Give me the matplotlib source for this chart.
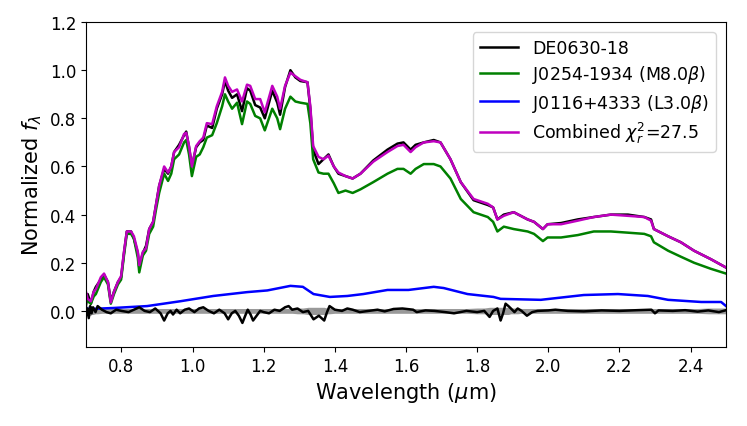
import numpy as np
import matplotlib
matplotlib.use("Agg")
import matplotlib.pyplot as plt

# wavelength grid (micron) shared by the observed spectrum, the M8 template and the combined fit
wave = [0.700, 0.705, 0.714, 0.722, 0.728, 0.742, 0.751, 0.762, 0.770, 0.779,
        0.790, 0.799, 0.807, 0.815, 0.827, 0.835, 0.846, 0.850, 0.860, 0.869,
        0.878, 0.889, 0.897, 0.906, 0.920, 0.931, 0.940, 0.948, 0.962, 0.976,
        0.982, 0.990, 0.998, 1.010, 1.020, 1.030, 1.040, 1.055, 1.068, 1.083,
        1.091, 1.100, 1.111, 1.125, 1.139, 1.153, 1.162, 1.176, 1.190, 1.203,
        1.224, 1.238, 1.246, 1.260, 1.275, 1.289, 1.303, 1.323, 1.331, 1.339,
        1.354, 1.368, 1.382, 1.397, 1.410, 1.430, 1.450, 1.472, 1.508, 1.548,
        1.576, 1.593, 1.613, 1.627, 1.650, 1.678, 1.697, 1.725, 1.754, 1.790,
        1.830, 1.845, 1.857, 1.875, 1.903, 1.942, 1.960, 1.985, 1.998, 2.036,
        2.083, 2.128, 2.176, 2.224, 2.270, 2.289, 2.297, 2.337, 2.373, 2.410,
        2.457, 2.500]

# DE0630-18 (observed)
flux_obs = [0.02, 0.07, 0.03, 0.08, 0.10, 0.13, 0.15, 0.12, 0.04, 0.08,
            0.12, 0.14, 0.24, 0.33, 0.33, 0.30, 0.24, 0.18, 0.24, 0.27,
            0.34, 0.37, 0.44, 0.52, 0.59, 0.57, 0.60, 0.66, 0.69, 0.73,
            0.745, 0.68, 0.60, 0.68, 0.70, 0.71, 0.77, 0.76, 0.84, 0.90,
            0.955, 0.915, 0.885, 0.90, 0.83, 0.925, 0.915, 0.855, 0.845, 0.80,
            0.915, 0.865, 0.815, 0.93, 1.00, 0.97, 0.955, 0.95, 0.84, 0.67,
            0.61, 0.63, 0.65, 0.60, 0.57, 0.56, 0.55, 0.57, 0.625, 0.67,
            0.695, 0.70, 0.67, 0.69, 0.70, 0.71, 0.70, 0.63, 0.535, 0.46,
            0.44, 0.43, 0.38, 0.40, 0.41, 0.38, 0.37, 0.34, 0.36, 0.365,
            0.38, 0.39, 0.40, 0.40, 0.39, 0.38, 0.34, 0.31, 0.285, 0.25,
            0.215, 0.18]

# J0254-1934 (M8.0 beta), scaled
flux_m8 = [0.06, 0.04, 0.03, 0.06, 0.07, 0.12, 0.14, 0.11, 0.03, 0.07,
           0.11, 0.13, 0.23, 0.32, 0.32, 0.30, 0.22, 0.16, 0.23, 0.25,
           0.32, 0.35, 0.42, 0.49, 0.57, 0.54, 0.57, 0.63, 0.65, 0.70,
           0.71, 0.65, 0.56, 0.64, 0.65, 0.68, 0.72, 0.73, 0.78, 0.85,
           0.90, 0.87, 0.84, 0.865, 0.776, 0.87, 0.86, 0.81, 0.80, 0.75,
           0.84, 0.80, 0.755, 0.84, 0.89, 0.87, 0.865, 0.86, 0.78, 0.63,
           0.575, 0.57, 0.57, 0.53, 0.49, 0.50, 0.49, 0.505, 0.535, 0.57,
           0.59, 0.59, 0.57, 0.59, 0.61, 0.61, 0.60, 0.55, 0.465, 0.41,
           0.39, 0.37, 0.33, 0.35, 0.34, 0.33, 0.32, 0.29, 0.305, 0.305,
           0.315, 0.33, 0.33, 0.325, 0.32, 0.31, 0.285, 0.25, 0.225, 0.20,
           0.175, 0.155]

# combined fit
flux_comb = [0.08, 0.05, 0.04, 0.08, 0.09, 0.14, 0.155, 0.12, 0.035, 0.08,
             0.12, 0.145, 0.245, 0.33, 0.33, 0.31, 0.245, 0.19, 0.245, 0.26,
             0.34, 0.37, 0.44, 0.52, 0.60, 0.575, 0.60, 0.66, 0.68, 0.735,
             0.74, 0.685, 0.60, 0.685, 0.705, 0.72, 0.78, 0.776, 0.85, 0.91,
             0.97, 0.935, 0.91, 0.92, 0.87, 0.94, 0.935, 0.88, 0.88, 0.825,
             0.935, 0.89, 0.84, 0.935, 0.99, 0.975, 0.96, 0.95, 0.85, 0.685,
             0.64, 0.63, 0.645, 0.60, 0.575, 0.56, 0.55, 0.57, 0.62, 0.66,
             0.685, 0.69, 0.66, 0.68, 0.70, 0.705, 0.70, 0.63, 0.535, 0.465,
             0.445, 0.43, 0.38, 0.395, 0.41, 0.38, 0.37, 0.34, 0.36, 0.36,
             0.375, 0.39, 0.40, 0.395, 0.39, 0.375, 0.34, 0.31, 0.285, 0.25,
             0.215, 0.18]

# J0116+4333 (L3.0 beta), scaled
wave_l3 = [0.700, 0.711, 0.776, 0.872, 0.965, 1.058, 1.153, 1.210, 1.275, 1.310,
           1.340, 1.386, 1.435, 1.480, 1.548, 1.607, 1.678, 1.706, 1.773, 1.846,
           1.866, 1.979, 2.100, 2.196, 2.280, 2.337, 2.430, 2.486, 2.500]
flux_l3 = [0.01, 0.008, 0.012, 0.020, 0.040, 0.062, 0.078, 0.085, 0.104, 0.100,
           0.070, 0.058, 0.062, 0.070, 0.087, 0.087, 0.100, 0.095, 0.070, 0.058,
           0.050, 0.046, 0.066, 0.070, 0.062, 0.046, 0.037, 0.037, 0.020]

# residual (observed - combined) and its uncertainty
wave_res = [0.700, 0.704, 0.708, 0.712, 0.716, 0.720, 0.727, 0.733, 0.745, 0.758,
            0.770, 0.785, 0.800, 0.820, 0.835, 0.850, 0.865, 0.880, 0.895, 0.910,
            0.920, 0.930, 0.938, 0.945, 0.955, 0.965, 0.978, 0.990, 1.005, 1.018,
            1.030, 1.045, 1.060, 1.075, 1.090, 1.100, 1.110, 1.120, 1.130, 1.140,
            1.148, 1.155, 1.163, 1.170, 1.180, 1.190, 1.200, 1.215, 1.230, 1.245,
            1.260, 1.270, 1.280, 1.295, 1.310, 1.325, 1.340, 1.355, 1.370, 1.378,
            1.385, 1.400, 1.420, 1.435, 1.450, 1.470, 1.495, 1.520, 1.540, 1.565,
            1.590, 1.620, 1.630, 1.655, 1.680, 1.710, 1.735, 1.770, 1.800, 1.820,
            1.835, 1.845, 1.857, 1.866, 1.873, 1.880, 1.888, 1.895, 1.905, 1.914,
            1.925, 1.940, 1.955, 1.970, 2.000, 2.020, 2.055, 2.100, 2.150, 2.200,
            2.250, 2.290, 2.300, 2.310, 2.350, 2.385, 2.420, 2.450, 2.480, 2.500]
flux_res = [-0.02, 0.01, -0.03, 0.02, -0.01, 0.015, -0.005, 0.02, 0.005, -0.005,
            -0.01, 0.005, 0.0, -0.005, 0.005, 0.015, 0.0, -0.005, 0.01, -0.01,
            -0.04, -0.01, 0.0, -0.015, 0.005, -0.01, 0.005, 0.01, -0.005, 0.01,
            0.015, 0.0, -0.01, 0.005, -0.01, -0.035, -0.01, 0.0, -0.02, -0.05,
            -0.02, 0.005, -0.015, -0.04, -0.02, 0.0, -0.005, -0.01, 0.005, 0.0,
            0.015, 0.02, 0.005, 0.01, -0.005, 0.0, -0.035, -0.02, -0.04, -0.005,
            0.02, 0.005, 0.0, 0.01, 0.005, -0.005, 0.0, 0.005, -0.002, 0.008,
            0.01, 0.005, -0.005, 0.002, 0.0, -0.005, -0.01, 0.0, -0.005, 0.0,
            -0.025, 0.0, 0.01, -0.04, -0.01, 0.03, 0.02, 0.01, -0.005, 0.01,
            0.0, -0.02, -0.005, 0.0, 0.002, 0.005, 0.0, -0.002, 0.002, 0.0,
            0.003, 0.005, -0.01, 0.002, 0.0, 0.003, -0.003, 0.002, -0.005, 0.003]
err_res = [0.02, 0.02, 0.02, 0.02, 0.015, 0.015, 0.012, 0.012, 0.01, 0.01,
           0.01, 0.01, 0.01, 0.01, 0.01, 0.01, 0.01, 0.01, 0.01, 0.01,
           0.01, 0.01, 0.01, 0.01, 0.01, 0.01, 0.01, 0.01, 0.01, 0.01,
           0.01, 0.01, 0.01, 0.01, 0.01, 0.01, 0.01, 0.01, 0.01, 0.01,
           0.01, 0.01, 0.01, 0.01, 0.01, 0.01, 0.01, 0.01, 0.01, 0.01,
           0.01, 0.01, 0.01, 0.012, 0.012, 0.015, 0.015, 0.015, 0.015, 0.012,
           0.012, 0.01, 0.01, 0.01, 0.01, 0.01, 0.01, 0.01, 0.01, 0.01,
           0.01, 0.01, 0.01, 0.01, 0.01, 0.01, 0.01, 0.01, 0.012, 0.012,
           0.015, 0.015, 0.015, 0.015, 0.015, 0.015, 0.015, 0.012, 0.012, 0.012,
           0.01, 0.01, 0.01, 0.01, 0.01, 0.01, 0.01, 0.01, 0.01, 0.01,
           0.01, 0.01, 0.01, 0.01, 0.01, 0.01, 0.01, 0.012, 0.012, 0.012]

plt.rcParams['font.family'] = ['DejaVu Sans']
fig = plt.figure(figsize=(7.47, 4.27), dpi=100)
ax = fig.add_axes([0.115, 0.185, 0.857, 0.761])

wr = np.array(wave_res)
fr = np.array(flux_res)
er = np.array(err_res)
ax.fill_between(wr, -er, er, color='grey', alpha=0.8, lw=0)
ax.plot(wave, flux_obs, color='k', lw=1.8, label='DE0630-18')
ax.plot(wave, flux_m8, color='g', lw=1.8, label=r'J0254-1934 (M8.0$\beta$)')
ax.plot(wave_l3, flux_l3, color='b', lw=1.8, label=r'J0116+4333 (L3.0$\beta$)')
ax.plot(wave, flux_comb, color='m', lw=1.8, label=r'Combined $\chi^2_r$=27.5')
ax.plot(wr, fr, color='k', lw=1.8)

ax.set_xlim(0.7, 2.5)
ax.set_ylim(-0.15, 1.2)
ax.set_xticks([0.8, 1.0, 1.2, 1.4, 1.6, 1.8, 2.0, 2.2, 2.4])
ax.set_yticks([0.0, 0.2, 0.4, 0.6, 0.8, 1.0, 1.2])
ax.tick_params(labelsize=12)
ax.set_xlabel(r'Wavelength ($\mu$m)', fontsize=15)
ax.set_ylabel(r'Normalized $f_\lambda$', fontsize=15)
ax.legend(loc='upper right', fontsize=12.5, handlelength=2.2,
          labelspacing=0.35, borderaxespad=0.6)

fig.savefig('out.png', dpi=100)
